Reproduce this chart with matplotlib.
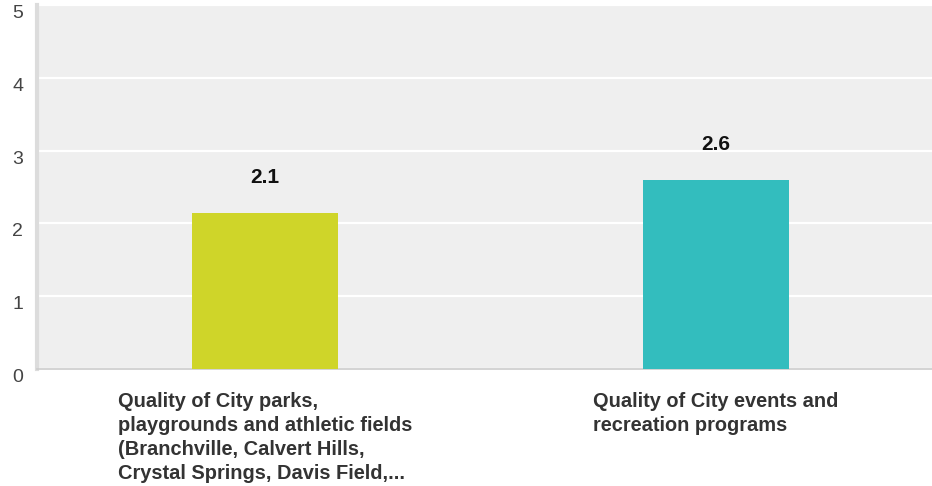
import matplotlib.pyplot as plt
import numpy as np

plt.rcParams['font.family'] = ['Liberation Sans', 'DejaVu Sans']

categories = [
    "Quality of City parks,\nplaygrounds and athletic fields\n(Branchville, Calvert Hills,\nCrystal Springs, Davis Field,...",
    "Quality of City events and\nrecreation programs",
]
scores = [2.14, 2.59]
colors = ['#cfd529', '#33bdbe']
yticks = [0, 1, 2, 3, 4, 5]

fig = plt.figure(figsize=(9.32, 4.86), dpi=100)
ax = fig.add_axes([37 / 932, 1 - 369 / 486, 1 - 37 / 932, 364 / 486])
ax.set_facecolor('#efefef')

x = np.arange(len(categories))
bars = ax.bar(x, scores, width=0.324, color=colors, zorder=3)

for rect, val in zip(bars, scores):
    ax.annotate(f"{val:.1f}", (rect.get_x() + rect.get_width() / 2, val),
                xytext=(0, 26), textcoords='offset points',
                ha='center', va='center', fontsize=15, fontweight='bold',
                color='#111111', zorder=4)

ax.set_ylim(0, 5)
ax.set_xlim(-0.505, 1.48)
ax.set_yticks(yticks)
ax.set_yticklabels([str(t) for t in yticks], fontsize=14, color='#444444',
                   va='top')
ax.yaxis.grid(True, color='white', linewidth=1.6, zorder=1)
ax.tick_params(axis='y', length=0, pad=10)
ax.tick_params(axis='x', length=0)
ax.set_xticks([])

for i, label in enumerate(categories):
    ax.text(x[i], -0.32, label, ha='center', va='top', multialignment='left',
            fontsize=14.4, fontweight='bold', color='#333333', linespacing=1.33,
            transform=ax.transData, clip_on=False)

for side in ['top', 'right']:
    ax.spines[side].set_visible(False)
ax.spines['left'].set_color('#dcdcdc')
ax.spines['left'].set_linewidth(3)
ax.spines['bottom'].set_color('#cccccc')
ax.spines['bottom'].set_linewidth(1.2)

fig.savefig('out.png', dpi=100)
